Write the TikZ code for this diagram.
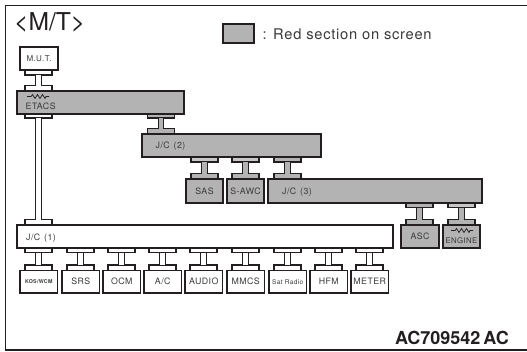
\documentclass[tikz,border=0pt]{standalone}
\usepackage{fontspec}
\setmainfont{TeX Gyre Heros}
\newfontfamily\lab[LetterSpace=5]{TeX Gyre Heros}
\definecolor{ink}{HTML}{231F20}
\definecolor{txt}{HTML}{3A3A3A}
\definecolor{red sec}{HTML}{B3B3B3}
\definecolor{padl}{HTML}{C8C8C8}
\newcommand{\bx}[7]{\node[boxn,fill=#6,minimum width={(#4-(#2))*1pt},minimum height={(#5-(#3))*1pt}] (#1) at ({(#2+#4)/2},{(#3+#5)/2}) {#7};}
% name, centre x, lower pad top, lower pad bottom, upper pad top, upper pad bottom, fills
\newcommand{\chain}[8]{%
\bx{#1a}{#2-13.5}{#3}{#2+13.5}{#4}{#6}{}
\bx{#1b}{#2-13.5}{#5}{#2+13.5}{#5+5.5}{#7}{}
\draw[stemline,double=#8] (#1a.south) -- (#1b.north);}
\tikzset{
 boxn/.style={draw=ink,line width=1.1pt,inner sep=0pt,outer sep=0pt,text=txt,font=\lab\fontsize{8.8}{9}\selectfont},
 stemline/.style={draw=ink,line width=1.1pt,double distance=4.6pt},
 lab/.style={anchor=west,inner sep=0pt,text=txt,font=\lab\fontsize{8.8}{9}\selectfont},
 zig/.style={draw=ink,line width=0.7pt}
}
\begin{document}
\begin{tikzpicture}[x=1pt,y=-1pt]
\useasboundingbox (0,0) rectangle (527,351);
\fill[white] (0,0) rectangle (527,351);
\draw[ink,line width=1.7pt] (527,5.5) -- (5.5,5.5) -- (5.5,350) -- (527,350);
\node[anchor=base west,inner sep=0pt,text=ink,font=\fontsize{24.6}{26}\selectfont] (title) at (14,30) {<M/T>};
\bx{leg}{223}{24}{254}{43}{red sec}{}
\node[anchor=base west,inner sep=0pt,text=txt,font=\lab\fontsize{14.7}{16}\selectfont] (legtxt) at (262.5,39.5) {: Red section on screen};
\node[anchor=base east,inner sep=0pt,text=ink,font=\bfseries\fontsize{18}{20}\selectfont] (code) at (509,344) {AC709542\hspace{3pt}AC};
% connectors
\chain{c1}{38.5}{70}{75}{85.5}{white}{white}{white}
\chain{c2}{38.5}{114}{118}{219.5}{white}{white}{white}
\chain{c3}{161}{114}{118}{128.5}{red sec}{red sec}{red sec}
\chain{c4}{204.5}{157}{162}{173.5}{padl}{red sec}{red sec}
\chain{c5}{245.5}{157}{162}{173.5}{padl}{red sec}{red sec}
\chain{c6}{287.5}{157}{162}{173.5}{red sec}{red sec}{red sec}
\chain{c7}{419.5}{203}{207.5}{219.5}{red sec}{red sec}{red sec}
\chain{c8}{461.5}{203}{207.5}{219.5}{padl}{red sec}{red sec}
% boxes
\bx{mut}{20}{47}{58}{70}{white}{\fontsize{8}{9}\selectfont M.U.T.}
\bx{etacs}{17}{91}{184}{114}{red sec}{}
\bx{jc2}{142}{134}{321}{157}{red sec}{}
\bx{sas}{186}{179}{223}{203}{red sec}{SAS}
\bx{sawc}{227}{179}{264}{203}{red sec}{S-AWC}
\bx{jc3}{268}{179}{482}{203}{red sec}{}
\bx{asc}{401}{225}{439}{248}{red sec}{ASC}
\bx{engine}{443}{225}{480}{248}{red sec}{}
\bx{jc1}{17}{225}{393}{248}{white}{}
\node[lab] (etacst) at (25.5,106) {ETACS};
\node[lab] (jc2t) at (155.5,146) {J/C\hspace{1pt} (2)};
\node[lab] (jc3t) at (282,192) {J/C\hspace{1pt} (3)};
\node[lab] (jc1t) at (26,238) {J/C\hspace{1pt} (1)};
\node[lab,anchor=center] (enginet) at (461.5,240.5) {\fontsize{7.8}{9}\selectfont ENGINE};
\draw[zig] (27,96.5) -- (31,96.5) -- (32.5,94.5) -- (35,98.5) -- (37.5,94.5) -- (40,98.5) -- (42.5,94.5) -- (45,98.5) -- (46,96.5) -- (49,96.5);
\draw[zig] (451,230.5) -- (455,230.5) -- (456.5,228.5) -- (459,232.5) -- (461.5,228.5) -- (464,232.5) -- (466.5,228.5) -- (469,232.5) -- (470,230.5) -- (473,230.5);
% bottom row
\foreach \n/\x/\t in {kos/20/{\fontsize{5.3}{6}\selectfont\bfseries KOS/WCM},srs/62/SRS,ocm/103/OCM,ac/144/{A/C},audio/185/AUDIO,mmcs/227/MMCS,sat/269/{\fontsize{6.6}{7}\selectfont Sat Radio},hfm/310/HFM,meter/351/METER}{
 \pgfmathsetmacro{\cx}{\x+18.5}
 \pgfmathsetmacro{\xe}{\x+37.5}
 \chain{p\n}{\cx}{248}{252.5}{265}{white}{white}{white}
 \bx{\n}{\x}{270.5}{\xe}{293}{white}{\t}
}
\end{tikzpicture}
\end{document}
